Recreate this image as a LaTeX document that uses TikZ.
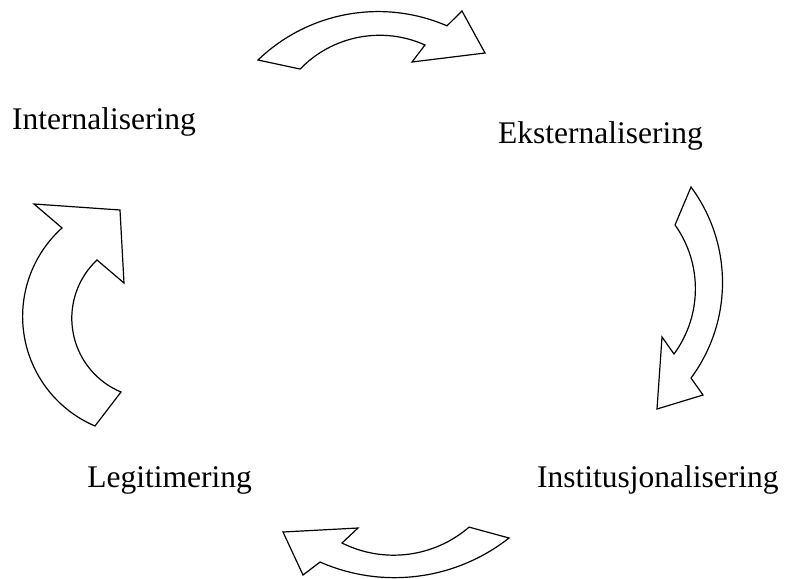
\documentclass[tikz,border=0pt]{standalone}
\usepackage{fontspec}
\setmainfont{Liberation Serif}
\begin{document}
\begin{tikzpicture}[x=1pt,y=-1pt,
  bigarrow/.style={draw=black,fill=white,line width=1.2pt,line join=miter},
  lbl/.style={inner sep=0pt,font=\fontsize{31.5}{36}\selectfont}]
\useasboundingbox (0,0) rectangle (786,578);
% top arrow (to the right)
\draw[bigarrow] (258,60) arc[start angle=226.1, end angle=293.4, radius=173.3]
  -- (462,11) -- (485,53) -- (412,62) -- (425,45)
  arc[start angle=294.2, end angle=224, radius=110.6] -- cycle;
% right arrow (downwards)
\draw[bigarrow] (691,187) arc[start angle=-36.5, end angle=36.5, radius=160.6]
  -- (703,395) -- (657,409) -- (662,337) -- (674,354)
  arc[start angle=36.3, end angle=-35.4, radius=110.2] -- cycle;
% bottom arrow (to the left)
\draw[bigarrow] (509,538) arc[start angle=51.8, end angle=113.7, radius=185.2]
  -- (303,575) -- (283,532) -- (358,528) -- (342,543)
  arc[start angle=116.55, end angle=49.2, radius=115.5] -- cycle;
% left arrow (upwards)
\draw[bigarrow] (95,426) arc[start angle=113.1, end angle=228, radius=119.1]
  -- (34,204) -- (120,210) -- (124,283) -- (97,260)
  arc[start angle=226.8, end angle=112.6, radius=79.9] -- cycle;
% labels
\node[lbl,anchor=base west] (int) at (12,129) {Internalisering};
\node[lbl,anchor=base west] (eks) at (498,143) {Eksternalisering};
\node[lbl,anchor=base east] (leg) at (252,487) {Legitimering};
\node[lbl,anchor=base west] (ins) at (537,487) {Institusjonalisering};
\end{tikzpicture}
\end{document}
